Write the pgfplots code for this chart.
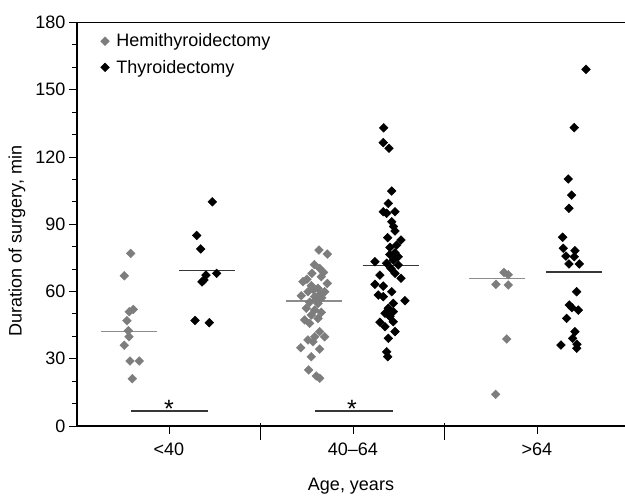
\documentclass[border=0pt]{standalone}
\usepackage{pgfplots}
\pgfplotsset{compat=1.18}
\usepackage{fontspec}
\setmainfont{Liberation Sans}
\definecolor{hemi}{RGB}{125,125,125}
\definecolor{medg}{RGB}{140,140,140}
\definecolor{medk}{RGB}{55,55,55}
\newcommand{\ff}{\fontsize{18bp}{21bp}\selectfont}
\begin{document}
\begin{tikzpicture}
\begin{axis}[
  scale only axis, width=548bp, height=403.5bp,
  xmin=0, xmax=5.957, ymin=0, ymax=180,
  axis line style={draw=none},
  xtick={1,3,5}, xticklabels={{<40},{40--64},{>64}},
  ytick={0,30,...,180}, minor y tick num=2,
  xtick pos=left, ytick pos=left,
  tick align=outside,
  major tick length=8bp, minor tick length=5bp,
  tick style={black, line width=0.9bp},
  font=\ff,
  /pgf/number format/assume math mode=true,
  xticklabel style={yshift=-5.5bp},
  xlabel={Age, years}, ylabel={Duration of surgery, min},
  every axis x label/.style={at={(rel axis cs:0.5,0)}, anchor=base, yshift=-64bp},
  every axis y label/.style={at={(rel axis cs:0,0.458)}, rotate=90, anchor=center, yshift=60bp},
  clip=false,
  legend style={at={(0.0374,0.982)}, anchor=north west, draw=none, fill=white, font=\ff, row sep=7.6bp},
  legend image code/.code={\draw[#1] plot coordinates {(0bp,0bp)}; \path[draw=none, fill=none] (0bp,0bp) -- (9.4bp,0bp);},
  legend cell align=left,
]
\addplot[only marks, mark=square*, mark size=3.1bp, mark options={rotate=45, fill=hemi, draw=hemi}, color=hemi] coordinates {
(0.584,77.0) (0.514,67.0) (0.612,52.0) (0.568,51.0) (0.543,47.0) (0.558,42.5) (0.565,39.8) (0.514,36.0) (0.576,29.0) (0.677,29.0) (0.601,21.1)
(2.630,78.5) (2.721,76.7) (2.638,70.3) (2.554,68.1) (2.655,66.6) (2.457,64.4) (2.547,62.6) (2.721,63.6) (2.620,61.4) (2.511,59.9) (2.692,59.9) (2.438,58.1) (2.584,57.7)
(2.529,55.2) (2.620,54.7) (2.492,52.5) (2.584,51.7) (2.655,50.7) (2.547,49.5) (2.475,47.3) (2.620,48.0) (2.529,45.8) (2.638,42.1) (2.584,39.8) (2.692,39.8) (2.511,38.4)
(2.565,37.6) (2.432,34.9) (2.638,34.3) (2.547,30.9) (2.518,25.0) (2.638,21.3) (2.601,22.3)
(2.600,56.5) (2.570,60.8) (2.660,57.2) (2.500,65.5) (2.680,68.5) (2.580,72.0) (2.640,58.8)
(4.641,68.5) (4.688,67.5) (4.554,63.2) (4.688,62.9) (4.671,38.8) (4.551,14.1)
};
\addlegendentry{Hemithyroidectomy}
\addplot[only marks, mark=square*, mark size=3.1bp, mark options={rotate=45, fill=black, draw=black}, color=black] coordinates {
(1.471,100.0) (1.301,85.0) (1.345,79.0) (1.518,68.1) (1.402,67.3) (1.380,65.1) (1.359,64.3) (1.283,47.1) (1.438,46.1)
(3.334,133.0) (3.329,126.4) (3.391,123.9) (3.421,104.8) (3.384,99.3) (3.329,95.6) (3.457,95.6) (3.366,94.9) (3.421,91.1) (3.457,87.0) (3.377,84.0) (3.522,83.0)
(3.475,80.7) (3.402,79.7) (3.457,77.3) (3.492,75.5) (3.239,73.3) (3.438,74.0) (3.366,72.6) (3.492,71.8) (3.413,70.3) (3.293,67.3) (3.457,68.1) (3.522,65.9)
(3.239,63.2) (3.329,62.4) (3.421,59.9) (3.275,58.4) (3.329,57.7) (3.565,55.9) (3.438,54.7) (3.384,52.5) (3.438,51.0) (3.348,50.3) (3.402,48.8) (3.293,46.3)
(3.438,46.5) (3.348,44.3) (3.457,42.1) (3.384,39.1) (3.366,33.1) (3.377,30.9) (3.440,89.0) (3.400,76.5)
(5.533,159.1) (5.405,133.1) (5.340,110.2) (5.377,103.0) (5.348,97.1) (5.279,84.2) (5.286,79.3) (5.413,78.2) (5.315,75.8) (5.405,75.5) (5.348,72.3) (5.460,72.3)
(5.431,59.9) (5.351,54.0) (5.449,51.7) (5.380,52.8) (5.323,48.0) (5.413,42.1) (5.388,39.1) (5.261,36.1) (5.432,34.7) (5.435,36.5)
};
\addlegendentry{Thyroidectomy}
% medians
\addplot[forget plot, medg, line width=1.3bp] coordinates {(0.258,42.1) (0.866,42.1)};
\addplot[forget plot, medg, line width=1.3bp] coordinates {(2.268,55.8) (2.877,55.8)};
\addplot[forget plot, medg, line width=1.3bp] coordinates {(4.264,65.7) (4.870,65.7)};
\addplot[forget plot, medk, line width=1.3bp] coordinates {(1.109,69.3) (1.717,69.3)};
\addplot[forget plot, medk, line width=1.3bp] coordinates {(3.105,71.7) (3.717,71.7)};
\addplot[forget plot, medk, line width=1.3bp] coordinates {(5.098,68.7) (5.703,68.7)};
% significance bars
\addplot[forget plot, medk, line width=1.3bp] coordinates {(0.584,6.7) (1.427,6.7)};
\addplot[forget plot, medk, line width=1.3bp] coordinates {(2.587,6.7) (3.430,6.7)};
\node[anchor=base, font=\fontsize{25bp}{28bp}\selectfont, inner sep=0pt] at (axis cs:1.0,4.0) {*};
\node[anchor=base, font=\fontsize{25bp}{28bp}\selectfont, inner sep=0pt] at (axis cs:2.99,4.0) {*};
% frame and group separators
\draw[line width=1.2bp] (rel axis cs:1,1) -- (rel axis cs:0,1) -- (rel axis cs:0,0) -- (rel axis cs:1,0);
\draw[line width=1bp] (axis cs:2,0) ++(0,3bp) -- ++(0,-17bp);
\draw[line width=1bp] (axis cs:4,0) ++(0,3bp) -- ++(0,-17bp);
\end{axis}
\pgfresetboundingbox
\path[use as bounding box] ([xshift=-77bp,yshift=-72bp]current axis.south west) rectangle ([yshift=22.5bp]current axis.north east);
\end{tikzpicture}
\end{document}
